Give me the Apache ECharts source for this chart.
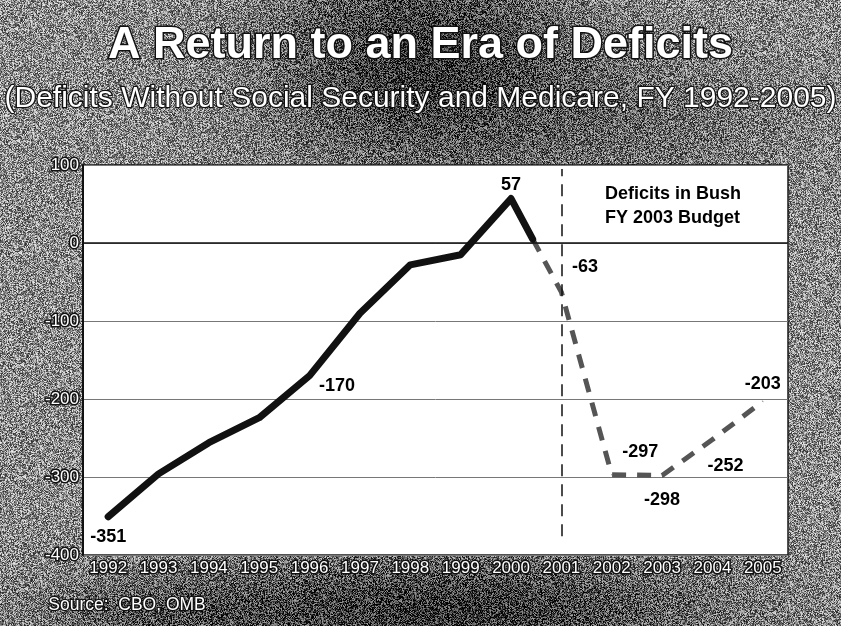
<!DOCTYPE html>
<html>
<head>
<meta charset="utf-8">
<script src="https://cdn.jsdelivr.net/npm/echarts@6/dist/echarts.min.js"></script>
<style>
  html, body { margin: 0; padding: 0; background: #888; }
  #chart { width: 841px; height: 626px; }
</style>
</head>
<body>
<div id="chart"></div>
<script>
// Deficits without Social Security and Medicare, FY 1992-2005 ($ billions)
const yearLabels = ['1992','1993','1994','1995','1996','1997','1998','1999','2000','2001','2002','2003','2004','2005'];
const actualYears = [1992, 1993, 1994, 1995, 1996, 1997, 1998, 1999, 2000];
const actualDeficits = [-351, -296, -256, -224, -170, -90, -28, -15, 57];
// where the solid history line hands over to the dashed budget projection
const handoverPoint = [2000.43, 5];
const budgetYears = [2001, 2002, 2003, 2004, 2005];
const budgetDeficits = [-63, -297, -298, -252, -203];
const yTicks = [100, 0, -100, -200, -300, -400];

// grainy photocopy-style backdrop
function makeBackdrop(w, h) {
  const c = document.createElement('canvas');
  c.width = w; c.height = h;
  const ctx = c.getContext('2d');
  const img = ctx.createImageData(w, h);
  let seed = 12345;
  const rnd = () => { seed = (seed * 1103515245 + 12345) & 0x7fffffff; return seed / 0x7fffffff; };
  const blobs = [
    { x: 420, y: 60, rx: 150, ry: 110, d: 85 },
    { x: 440, y: 610, rx: 260, ry: 55, d: 90 },
    { x: 150, y: 615, rx: 120, ry: 40, d: 35 },
    { x: 640, y: 120, rx: 160, ry: 70, d: 30 }
  ];
  for (let y = 0; y < h; y++) {
    for (let x = 0; x < w; x++) {
      let m = 140;
      for (const b of blobs) {
        const dx = (x - b.x) / b.rx, dy = (y - b.y) / b.ry;
        m -= b.d * Math.exp(-(dx * dx + dy * dy));
      }
      let v = m + (rnd() - 0.5) * 190;
      v = v < 0 ? 0 : v > 255 ? 255 : v;
      const i = (y * w + x) * 4;
      img.data[i] = img.data[i + 1] = img.data[i + 2] = v;
      img.data[i + 3] = 255;
    }
  }
  ctx.putImageData(img, 0, 0);
  return c;
}

const chart = echarts.init(document.getElementById('chart'), null, { renderer: 'canvas' });

const outlined = {
  color: '#fff',
  textBorderColor: '#111',
  textBorderWidth: 3
};

// label placement per labelled year
const labelPlacement = {
  1992: { position: 'bottom', distance: 11 },
  1996: { position: 'right', distance: 9, offset: [0, 10] },
  2000: { position: 'top', distance: 4 },
  2001: { position: 'right', distance: 10, offset: [0, -25] },
  2002: { position: 'right', distance: 10, offset: [0, -23] },
  2003: { position: 'bottom', distance: 15 },
  2004: { position: 'bottom', distance: 17, offset: [13, 0] },
  2005: { position: 'top', distance: 8 }
};
const valueLabel = { show: true, color: '#000', fontFamily: 'Liberation Sans, Arial, sans-serif', fontWeight: 'bold', fontSize: 18 };

function points(years, values) {
  return years.map((yr, i) => {
    const item = { value: [yr, values[i]] };
    if (labelPlacement[yr]) {
      item.label = Object.assign({}, valueLabel, labelPlacement[yr], { formatter: String(values[i]) });
    }
    return item;
  });
}

const solidData = points(actualYears, actualDeficits).concat([{ value: handoverPoint }]);
const dashedData = [{ value: handoverPoint }].concat(points(budgetYears, budgetDeficits));

chart.setOption({
  animation: false,
  backgroundColor: '#8a8a8a',
  graphic: [
    { type: 'image', z: -10, left: 0, top: 0, silent: true,
      style: { image: makeBackdrop(841, 626), width: 841, height: 626 } },
    { type: 'text', left: 'center', top: 22, z: 10,
      style: { text: 'A Return to an Era of Deficits', fill: '#fff',
        font: 'bold 45px "Liberation Sans", Arial, sans-serif',
        stroke: '#111', lineWidth: 3, shadowColor: 'rgba(0,0,0,0.9)', shadowOffsetX: 2, shadowOffsetY: 2, shadowBlur: 2 } },
    { type: 'text', left: 'center', top: 82, z: 10,
      style: { text: '(Deficits Without Social Security and Medicare, FY 1992-2005)', fill: '#fff',
        font: '30px "Liberation Sans", Arial, sans-serif',
        stroke: '#111', lineWidth: 2.5 } },
    { type: 'text', left: 605, top: 182, z: 10,
      style: { text: 'Deficits in Bush\nFY 2003 Budget', fill: '#000', lineHeight: 24,
        font: 'bold 18px "Liberation Sans", Arial, sans-serif' } },
    { type: 'text', left: 47, top: 595, z: 10,
      style: { text: 'Source:  CBO, OMB', fill: '#fff',
        font: '17.5px "Liberation Sans", Arial, sans-serif', stroke: '#111', lineWidth: 2.5 } }
  ],
  grid: {
    left: 83, right: 53, top: 165, bottom: 71,
    show: true, backgroundColor: '#fff', borderColor: '#1a1a1a', borderWidth: 1.5
  },
  xAxis: [
    { type: 'value', min: 1991.5, max: 2005.5, show: false, splitLine: { show: false } },
    { type: 'category', data: yearLabels, boundaryGap: true, position: 'bottom',
      axisLine: { show: false }, axisTick: { show: false },
      axisLabel: Object.assign({ fontSize: 17, margin: 5, fontFamily: 'Liberation Sans, Arial, sans-serif' }, outlined) }
  ],
  yAxis: {
    type: 'value', min: -400, max: 100, interval: 100,
    axisLine: { show: true, lineStyle: { color: '#111', width: 2 } },
    axisTick: { show: false },
    axisLabel: Object.assign({ fontSize: 17, margin: 4, fontFamily: 'Liberation Sans, Arial, sans-serif',
      formatter: v => (yTicks.indexOf(v) >= 0 ? String(v) : '') }, outlined),
    splitLine: { show: true, lineStyle: { color: '#777', width: 1 } }
  },
  series: [
    {
      name: 'Actual', type: 'line', xAxisIndex: 0, data: solidData,
      symbol: 'circle', symbolSize: 1, showSymbol: true,
      itemStyle: { color: '#111' },
      lineStyle: { color: '#111', width: 7, cap: 'round', join: 'round' },
      z: 5,
      markLine: {
        silent: true, symbol: 'none', label: { show: false },
        data: [
          [{ coord: [2001, -376], lineStyle: { color: '#111', width: 1.5, type: [12, 8] } },
           { coord: [2001, 95] }],
          [{ coord: [1991.5, 0], lineStyle: { color: '#111', width: 1.5, type: 'solid' } },
           { coord: [2005.5, 0] }]
        ]
      }
    },
    {
      name: 'Projected', type: 'line', xAxisIndex: 0, data: dashedData,
      symbol: 'circle', symbolSize: 1, showSymbol: true,
      itemStyle: { color: '#555' },
      lineStyle: { color: '#555', width: 5, type: [14, 11] },
      z: 4
    }
  ]
});
</script>
</body>
</html>
